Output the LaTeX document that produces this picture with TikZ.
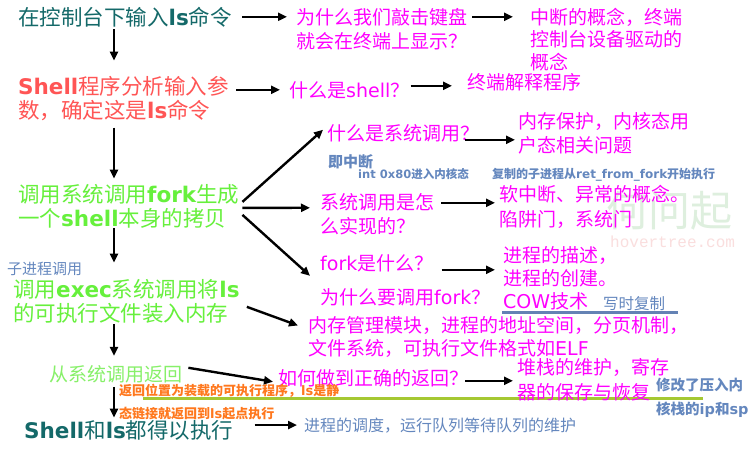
\documentclass[tikz,border=0pt]{standalone}
\usepackage{fontspec}
\setmainfont{Noto Sans CJK SC}
\newfontfamily\latf{DejaVu Sans}
\newfontfamily\monof{Liberation Mono}
\usetikzlibrary{arrows.meta,calc}
\definecolor{tealc}{RGB}{20,105,105}
\definecolor{redc}{RGB}{255,85,85}
\definecolor{greenc}{RGB}{102,240,60}
\definecolor{lgreenc}{RGB}{135,240,105}
\definecolor{magc}{RGB}{255,0,255}
\definecolor{bgc}{RGB}{100,135,190}
\definecolor{orc}{RGB}{255,120,30}
\definecolor{linegc}{RGB}{165,200,50}
\definecolor{ulc}{RGB}{100,130,180}
\definecolor{wmg}{RGB}{222,239,222}
\definecolor{wmp}{RGB}{250,222,222}
\newcommand\Lb[1]{{\latf\bfseries #1}}
\newcommand\Lr[1]{{\latf #1}}
\newcommand\fs[2]{\fontsize{#1}{#2}\selectfont}
\begin{document}
\begin{tikzpicture}[x=1pt,y=-1pt,
  txt/.style={anchor=base west, inner sep=0pt, align=left},
  big/.style={txt, font=\fs{21.5}{24}},
  mid/.style={txt, font=\fs{19}{24}, text=magc},
  arr/.style={line width=2.4pt, -{Triangle[length=9pt,width=8pt]}},
]
\useasboundingbox (0,0) rectangle (750,455);
\fill[white] (0,0) rectangle (750,455);
% watermark
\node[txt, font=\fs{42}{46}, text=wmg] (wm1) at (606,226) {何问起};
\node[txt, font={\monof\fs{16}{18}}, text=wmp] (wm2) at (610,247) {hovertree.com};
\coordinate (spine) at (114,0);
% lines
\draw[line width=3pt, linegc] (143,398) -- (703,398);
\draw[line width=3pt, ulc] (502,312) -- (678,312);
% left column (base anchor = baseline of last line)
\node[big, text=tealc] (n1) at (18,25) {在控制台下输入\Lb{ls}命令};
\node[big, text=redc] (n4) at (18,118) {\Lb{Shell}程序分析输入参\\数，确定这是\Lb{ls}命令};
\node[big, text=greenc] (n7) at (18,226) {调用系统调用\Lb{fork}生成\\一个\Lb{shell}本身的拷贝};
\node[txt, font=\fs{15}{18}, text=bgc] (n18) at (7,274) {子进程调用};
\node[big, text=greenc] (n19) at (13,321) {调用\Lb{exec}系统调用将\Lb{ls}\\的可执行文件装入内存};
\node[txt, font=\fs{19}{24}, text=lgreenc] (n21) at (49,381) {从系统调用返回};
\node[big, text=tealc] (n28) at (24,438) {\Lb{Shell}和\Lb{ls}都得以执行};
% magenta column
\node[mid] (n2) at (296,48) {为什么我们敲击键盘\\就会在终端上显示？};
\node[txt, font=\fs{19}{22.5}, text=magc] (n3) at (530,69) {中断的概念，终端\\控制台设备驱动的\\概念};
\node[mid] (n5) at (289,97) {什么是\Lr{shell}？};
\node[mid] (n6) at (467,89) {终端解释程序};
\node[mid] (n8) at (327,140) {什么是系统调用？};
\node[mid] (n9) at (518,152) {内存保护，内核态用\\户态相关问题};
\node[txt, font=\fs{15}{18}\bfseries, text=bgc] (n10) at (328,167) {即中断};
\node[txt, font=\fs{11.5}{14}\bfseries, text=bgc] (n11) at (358,178) {\Lb{int 0x80}进入内核态};
\node[txt, font=\fs{12}{14}\bfseries, text=bgc] (n12) at (492,178) {复制的子进程从\Lb{ret\_from\_fork}开始执行};
\node[mid] (n13) at (320,233) {系统调用是怎\\么实现的？};
\node[txt, font=\fs{19}{25}, text=magc] (n14) at (499,226) {软中断、异常的概念。\\陷阱门，系统门};
\node[mid] (n15) at (320,270) {\Lr{fork}是什么？};
\node[txt, font=\fs{19}{23}, text=magc] (n16) at (503,308) {进程的描述，\\进程的创建。\\\Lr{COW}技术};
\node[txt, font=\fs{15.5}{18}, text=bgc] (n16b) at (603,309) {写时复制};
\node[mid] (n17) at (320,304) {为什么要调用\Lr{fork}？};
\node[txt, font=\fs{19}{23}, text=magc] (n20) at (308,355) {内存管理模块，进程的地址空间，分页机制，\\文件系统，可执行文件格式如\Lr{ELF}};
\node[mid] (n22) at (278,385) {如何做到正确的返回？};
\node[txt, font=\fs{19}{25}, text=magc] (n23) at (517,399) {堆栈的维护，寄存\\器的保存与恢复};
\node[txt, font=\fs{14.5}{24}\bfseries, text=bgc] (n27) at (656,414) {修改了压入内\\核栈的\Lb{ip}和\Lb{sp}};
\node[txt, font=\fs{13}{16}\bfseries, text=orc] (n25) at (119,395) {返回位置为装载的可执行程序，\Lb{ls}是静};
\node[txt, font=\fs{13}{16}\bfseries, text=orc] (n26) at (119,418) {态链接就返回到\Lb{ls}起点执行};
\node[txt, font=\fs{16}{18}, text=bgc] (n29) at (304,431) {进程的调度，运行队列等待队列的维护};
% vertical arrows
\draw[arr, shorten <=2pt, shorten >=15pt] (n1.south -| spine) -- (n4.north -| spine);
\draw[arr, shorten <=7pt, shorten >=5pt] (n4.south -| spine) -- (n7.north -| spine);
\draw[arr, shorten <=0pt, shorten >=16pt] (n7.south -| spine) -- (n19.north -| spine);
\draw[arr, shorten <=1pt, shorten >=9pt] (n19.south -| spine) -- (n21.north -| spine);
\draw[arr, shorten <=4pt, shorten >=2pt] (n21.south -| spine) -- (n28.north -| spine);
% horizontal arrows
\draw[arr, shorten <=10pt, shorten >=9pt] (n1.east) -- (n2.west |- n1.east);
\draw[arr, shorten <=5pt, shorten >=17pt] (n2.east |- n1.east) -- (n3.west |- n1.east);
\draw[arr, shorten <=7pt, shorten >=9pt] (n4.east |- n5.west) -- (n5.west);
\path ($(n5.east)!.5!(n6.west)$) coordinate (m56);
\draw[arr, shorten <=1pt, shorten >=15pt] (n5.east |- m56) -- (n6.west |- m56);
\draw[arr] ($(n7.east)+(3,-4)$) -- ($(n8.west)+(-4,-3)$);
\draw[arr] ($(n7.east)+(3,2)$) -- ($(n13.west)+(-10,-6)$);
\draw[arr] ($(n7.east)+(3,9)$) -- ($(n15.west)+(-10,13)$);
\draw[arr, shorten >=3pt] ($(n8.east)+(-14,7)$) coordinate (s89) -- (s89 -| n9.west);
\draw[arr, shorten >=4pt] ($(n13.east)+(7,-11)$) coordinate (s1314) -- (s1314 -| n14.west);
\draw[arr, shorten >=8pt] ($(n15.east)+(8,7)$) coordinate (s1516) -- (s1516 -| n16.west);
\draw[arr] ($(n19.east)+(7,6)$) -- ($(n20.west)+(-10,-11)$);
\draw[arr] ($(n21.east)+(6,-6)$) -- ($(n22.west)+(-5,4)$);
\draw[arr, shorten >=4pt] ($(n22.east)+(-3,3)$) coordinate (s2223) -- (s2223 -| n23.west);
\draw[arr, shorten <=21pt, shorten >=7pt] (n28.east |- n29.west) -- (n29.west);
\end{tikzpicture}
\end{document}
